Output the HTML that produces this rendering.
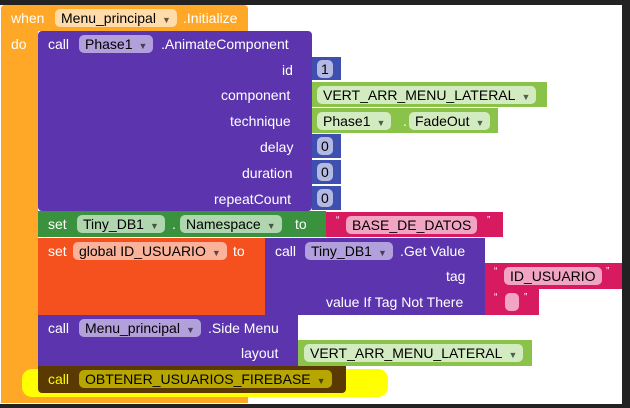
<!DOCTYPE html>
<html><head><meta charset="utf-8"><style>
body{margin:0;width:630px;height:408px;background:#222;position:relative;overflow:hidden;font-family:"Liberation Sans",Arial,sans-serif;font-size:14px;color:#fff}
.a{position:absolute;box-sizing:border-box}
.t{position:absolute;white-space:nowrap;line-height:16px}
.f{position:absolute;border-radius:5px;height:18px;line-height:18px;padding:0 6px;color:#000;white-space:nowrap;box-sizing:border-box}
.dd{font-size:9px;opacity:.6;margin-left:6px}
</style></head><body>
<div class="a" style="left:0;top:5px;width:622px;height:399px;background:#fff"></div>
<!-- orange event -->
<div class="a" style="left:1px;top:5px;width:247px;height:26px;background:#ffa726;border-radius:4px 4px 0 0"></div>
<div class="a" style="left:1px;top:5px;width:37px;height:398px;background:#ffa726;border-radius:4px 0 0 4px"></div>
<div class="a" style="left:1px;top:392px;width:247px;height:11px;background:#ffa726"></div>
<div class="t" style="left:11px;top:10px">when</div>
<div class="f" style="left:55px;top:9px;background:#ffdcaa">Menu_principal<span class="dd">▼</span></div>
<div class="t" style="left:183px;top:10px">.Initialize</div>
<div class="t" style="left:11px;top:36px">do</div>
<!-- animate -->
<div class="a" style="left:38px;top:31px;width:274px;height:180px;background:#5c35ae;border-radius:4px"></div>
<div class="t" style="left:48px;top:36px">call</div>
<div class="f" style="left:79px;top:35px;background:#b2a0dc">Phase1<span class="dd">▼</span></div>
<div class="t" style="left:161px;top:36px">.AnimateComponent</div>
<div class="t" style="left:282px;top:62px">id</div>
<div class="t" style="left:221px;top:87px">component</div>
<div class="t" style="left:230px;top:113px">technique</div>
<div class="t" style="left:260px;top:139px">delay</div>
<div class="t" style="left:242px;top:165px">duration</div>
<div class="t" style="left:214px;top:191px">repeatCount</div>
<div class="a" style="left:312px;top:57px;width:29px;height:23px;background:#3f4fb0"></div>
<div class="f" style="left:317px;top:60px;background:#b3b9e0;padding:0 4px">1</div>
<div class="a" style="left:312px;top:82px;width:235px;height:25px;background:#8bc34a"></div>
<div class="f" style="left:317px;top:86px;background:#d3ebc0">VERT_ARR_MENU_LATERAL<span class="dd">▼</span></div>
<div class="a" style="left:312px;top:108px;width:186px;height:25px;background:#8bc34a"></div>
<div class="f" style="left:317px;top:112px;background:#d3ebc0">Phase1<span class="dd">▼</span></div>
<div class="t" style="left:403px;top:113px;color:#fff">.</div>
<div class="f" style="left:409px;top:112px;background:#d3ebc0">FadeOut<span class="dd">▼</span></div>
<div class="a" style="left:312px;top:134px;width:29px;height:24px;background:#3f4fb0"></div>
<div class="f" style="left:317px;top:137px;background:#b3b9e0;padding:0 4px">0</div>
<div class="a" style="left:312px;top:160px;width:29px;height:24px;background:#3f4fb0"></div>
<div class="f" style="left:317px;top:163px;background:#b3b9e0;padding:0 4px">0</div>
<div class="a" style="left:312px;top:186px;width:29px;height:24px;background:#3f4fb0"></div>
<div class="f" style="left:317px;top:189px;background:#b3b9e0;padding:0 4px">0</div>
<!-- set namespace -->
<div class="a" style="left:38px;top:211px;width:288px;height:26px;background:#3a913e"></div>
<div class="t" style="left:48px;top:216px">set</div>
<div class="f" style="left:77px;top:215px;background:#b0d6b0">Tiny_DB1<span class="dd">▼</span></div>
<div class="t" style="left:172px;top:216px">.</div>
<div class="f" style="left:180px;top:215px;background:#b0d6b0">Namespace<span class="dd">▼</span></div>
<div class="t" style="left:295px;top:216px">to</div>
<div class="a" style="left:326px;top:212px;width:177px;height:25px;background:#d81b60"></div>
<div class="t" style="left:336px;top:213px;font-size:10px">“</div>
<div class="f" style="left:346px;top:216px;background:#f2a5c3">BASE_DE_DATOS</div>
<div class="t" style="left:487px;top:213px;font-size:10px">”</div>
<!-- set global -->
<div class="a" style="left:38px;top:238px;width:227px;height:77px;background:#f4511e"></div>
<div class="t" style="left:48px;top:243px">set</div>
<div class="f" style="left:73px;top:242px;background:#fab39a">global ID_USUARIO<span class="dd">▼</span></div>
<div class="t" style="left:233px;top:243px">to</div>
<div class="a" style="left:265px;top:238px;width:220px;height:77px;background:#5c35ae"></div>
<div class="t" style="left:275px;top:243px">call</div>
<div class="f" style="left:305px;top:242px;background:#b2a0dc">Tiny_DB1<span class="dd">▼</span></div>
<div class="t" style="left:400px;top:243px">.Get Value</div>
<div class="t" style="left:446px;top:268px">tag</div>
<div class="t" style="left:326px;top:294px">value If Tag Not There</div>
<div class="a" style="left:485px;top:263px;width:137px;height:26px;background:#d81b60"></div>
<div class="t" style="left:494px;top:264px;font-size:10px">“</div>
<div class="f" style="left:504px;top:267px;background:#f2a5c3">ID_USUARIO</div>
<div class="t" style="left:606px;top:264px;font-size:10px">”</div>
<div class="a" style="left:485px;top:289px;width:54px;height:26px;background:#d81b60"></div>
<div class="t" style="left:494px;top:290px;font-size:10px">“</div>
<div class="f" style="left:505px;top:293px;width:14px;background:#f2a5c3"></div>
<div class="t" style="left:524px;top:290px;font-size:10px">”</div>
<!-- side menu -->
<div class="a" style="left:38px;top:315px;width:260px;height:51px;background:#5c35ae"></div>
<div class="t" style="left:48px;top:320px">call</div>
<div class="f" style="left:79px;top:319px;background:#b2a0dc">Menu_principal<span class="dd">▼</span></div>
<div class="t" style="left:208px;top:320px">.Side Menu</div>
<div class="t" style="left:241px;top:345px">layout</div>
<div class="a" style="left:298px;top:340px;width:234px;height:26px;background:#8bc34a"></div>
<div class="f" style="left:304px;top:344px;background:#d3ebc0">VERT_ARR_MENU_LATERAL<span class="dd">▼</span></div>
<!-- highlight -->
<div class="a" style="left:22px;top:369px;width:366px;height:28px;background:#ffff00;border-radius:10px"></div>
<div class="a" style="left:38px;top:366px;width:308px;height:27px;background:#5a3a00;border-radius:0 0 4px 4px"></div>
<div class="t" style="left:48px;top:371px;color:#ff0">call</div>
<div class="f" style="left:79px;top:370px;background:#b8a600">OBTENER_USUARIOS_FIREBASE<span class="dd">▼</span></div>
</body></html>
